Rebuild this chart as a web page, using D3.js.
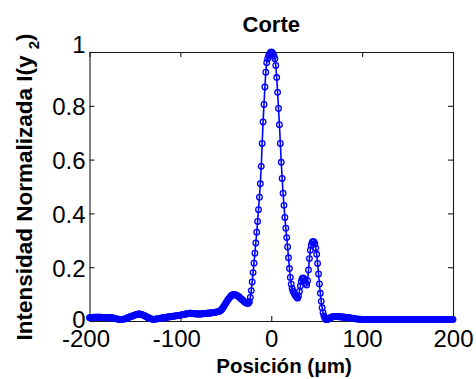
<!DOCTYPE html>
<html>
<head>
<meta charset="utf-8">
<script src="https://cdn.jsdelivr.net/npm/d3@7"></script>
<style>
html,body{margin:0;padding:0;background:#fff;}
svg{display:block;}
text{font-family:"Liberation Sans",Arial,Helvetica,sans-serif;fill:#000;}
</style>
</head>
<body>
<svg id="chart" width="476" height="379"></svg>
<script>
// ---- data ----
const titleText = "Corte";
const xLabelText = "Posición (μm)";
const yLabelMain = "Intensidad Normalizada I(y ";
const yLabelSub = "2";
const yLabelEnd = ")";
const xTicks = [-200, -100, 0, 100, 200];
const yTicks = [0, 0.2, 0.4, 0.6, 0.8, 1];
const xTickLabels = ["-200", "-100", "0", "100", "200"];
const yTickLabels = ["0", "0.2", "0.4", "0.6", "0.8", "1"];
const xStart = -200, xStep = 1;
const intensity = [
// -200 .. -151
.012,.012,.013,.013,.013,.014,.014,.014,.014,.014,
.014,.014,.014,.013,.013,.013,.013,.013,.013,.013,
.013,.012,.012,.012,.011,.011,.011,.010,.009,.008,
.008,.007,.007,.006,.006,.006,.006,.007,.007,.008,
.009,.010,.012,.013,.015,.016,.017,.018,.020,.021,
// -150 .. -101
.022,.023,.024,.025,.026,.026,.025,.024,.023,.022,
.021,.019,.017,.015,.013,.012,.010,.009,.008,.007,
.006,.006,.007,.007,.008,.008,.009,.009,.010,.010,
.011,.012,.012,.013,.013,.014,.015,.015,.016,.016,
.017,.017,.018,.018,.019,.019,.020,.020,.021,.021,
// -100 .. -51
.022,.022,.023,.024,.024,.025,.026,.027,.027,.028,
.029,.029,.029,.028,.028,.027,.027,.027,.026,.026,
.026,.026,.026,.026,.027,.027,.028,.028,.028,.029,
.029,.029,.030,.030,.030,.031,.031,.032,.032,.033,
.034,.034,.035,.036,.038,.041,.045,.050,.055,.061,
// -50 .. -1
.066,.072,.077,.082,.086,.090,.094,.097,.098,.099,
.098,.097,.095,.093,.091,.088,.085,.082,.079,.076,
.073,.070,.068,.066,.065,.066,.072,.088,.113,.145,
.180,.215,.252,.290,.330,.370,.414,.460,.510,.575,
.660,.740,.805,.870,.925,.960,.975,.985,.991,.997,
// 0 .. 49
1.000,.998,.992,.985,.975,.950,.905,.850,.790,.730,
.660,.590,.530,.475,.430,.385,.345,.310,.275,.235,
.195,.162,.137,.121,.111,.104,.098,.093,.088,.085,
.092,.110,.130,.147,.157,.160,.157,.149,.140,.134,
.150,.190,.232,.263,.282,.292,.296,.294,.286,.271,
// 50 .. 99
.248,.214,.175,.138,.103,.073,.049,.031,.019,.011,
.006,.005,.006,.008,.010,.012,.014,.015,.016,.016,
.017,.017,.017,.017,.016,.016,.016,.015,.015,.015,
.014,.014,.013,.013,.012,.012,.011,.011,.010,.010,
.009,.009,.008,.008,.008,.007,.007,.007,.007,.006,
// 100 .. 149
.006,.006,.006,.006,.006,.006,.005,.005,.005,.005,
.005,.005,.005,.005,.005,.005,.005,.005,.005,.005,
.005,.005,.005,.005,.005,.005,.005,.005,.005,.005,
.005,.005,.005,.005,.005,.005,.005,.005,.005,.005,
.005,.005,.005,.005,.005,.005,.005,.005,.005,.005,
// 150 .. 200
.005,.005,.005,.005,.005,.005,.005,.005,.005,.005,
.005,.005,.005,.005,.005,.005,.005,.005,.005,.005,
.005,.005,.005,.005,.005,.005,.005,.005,.005,.005,
.005,.005,.005,.005,.005,.005,.005,.005,.005,.005,
.005,.005,.005,.005,.005,.005,.005,.005,.005,.006,
.006
];
const positions = intensity.map((_, i) => xStart + i * xStep);

// ---- layout ----
const svg = d3.select("#chart");
const L = 89.5, R = 453, T = 52, B = 321;
const x = d3.scaleLinear().domain([-200, 200]).range([L, R]);
const y = d3.scaleLinear().domain([0, 1]).range([B, T]);
const points = positions.map((p, i) => [p, intensity[i]]);

// axes (box with inward ticks)
const axisColor = "#1a1a1a";
function styleAxis(g) {
  g.selectAll("path.domain").attr("stroke", axisColor).attr("stroke-width", 1.1);
  g.selectAll(".tick line").attr("stroke", axisColor).attr("stroke-width", 1.1);
}
const gBottom = svg.append("g").attr("transform", `translate(0,${B})`)
  .call(d3.axisBottom(x).tickValues(xTicks).tickSizeInner(-5).tickSizeOuter(0).tickPadding(9)
    .tickFormat((d, i) => xTickLabels[i]));
styleAxis(gBottom);
gBottom.selectAll(".tick text").attr("font-size", 24).attr("font-family", null)
  .attr("dx", d => d < 0 ? -4 : 0);

const gLeft = svg.append("g").attr("transform", `translate(${L},0)`)
  .call(d3.axisLeft(y).tickValues(yTicks).tickSizeInner(-5).tickSizeOuter(0).tickPadding(4)
    .tickFormat((d, i) => yTickLabels[i]));
styleAxis(gLeft);
gLeft.selectAll(".tick text").attr("font-size", 24).attr("font-family", null)
  .attr("dy", d => d === 1 ? "0.02em" : (d === 0 ? "0.28em" : "0.37em"));

const gTop = svg.append("g").attr("transform", `translate(0,${T})`)
  .call(d3.axisTop(x).tickValues(xTicks).tickSizeInner(-5).tickSizeOuter(0).tickFormat(""));
styleAxis(gTop);
const gRight = svg.append("g").attr("transform", `translate(${R},0)`)
  .call(d3.axisRight(y).tickValues(yTicks).tickSizeInner(-5).tickSizeOuter(0).tickFormat(""));
styleAxis(gRight);

// data line + markers
const blue = "#0000ff";
svg.append("path").datum(points)
  .attr("fill", "none").attr("stroke", blue).attr("stroke-width", 1.6)
  .attr("stroke-linejoin", "round")
  .attr("d", d3.line().x(d => x(d[0])).y(d => y(d[1])));
svg.append("g").selectAll("circle").data(points).join("circle")
  .attr("cx", d => x(d[0])).attr("cy", d => y(d[1])).attr("r", 2.8)
  .attr("fill", "none").attr("stroke", blue).attr("stroke-width", 1.3);

// title
svg.append("text").attr("x", (L + R) / 2).attr("y", 32).attr("text-anchor", "middle")
  .attr("font-size", 22).attr("font-weight", "bold").text(titleText);
// x label
svg.append("text").attr("x", 284).attr("y", 373).attr("text-anchor", "middle")
  .attr("font-size", 20.5).attr("font-weight", "bold").text(xLabelText);
// y label
const yl = svg.append("text").attr("transform", `translate(32,${(T + B) / 2 + 0.5}) rotate(-90)`)
  .attr("text-anchor", "middle").attr("font-size", 22.5).attr("font-weight", "bold");
yl.append("tspan").text(yLabelMain);
yl.append("tspan").attr("font-size", 15).attr("dy", 7).text(yLabelSub);
yl.append("tspan").attr("dy", -7).text(yLabelEnd);
</script>
</body>
</html>
